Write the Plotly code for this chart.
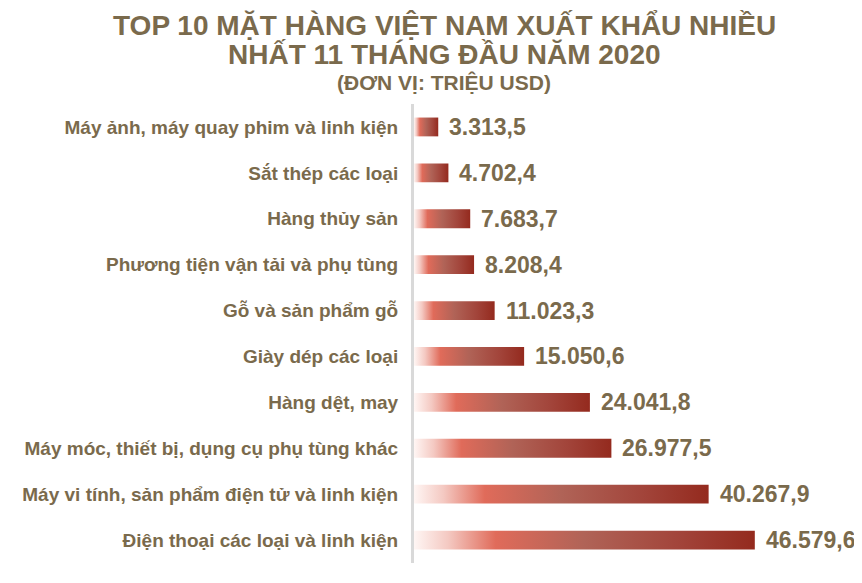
import plotly.graph_objects as go

categories = [
    "Điện thoại các loại và linh kiện",
    "Máy vi tính, sản phẩm điện tử và linh kiện",
    "Máy móc, thiết bị, dụng cụ phụ tùng khác",
    "Hàng dệt, may",
    "Giày dép các loại",
    "Gỗ và sản phẩm gỗ",
    "Phương tiện vận tải và phụ tùng",
    "Hàng thủy sản",
    "Sắt thép các loại",
    "Máy ảnh, máy quay phim và linh kiện",
]
values = [46579.6, 40267.9, 26977.5, 24041.8, 15050.6, 11023.3, 8208.4, 7683.7, 4702.4, 3313.5]
value_labels = ["46.579,6", "40.267,9", "26.977,5", "24.041,8", "15.050,6",
                "11.023,3", "8.208,4", "7.683,7", "4.702,4", "3.313,5"]

title_lines = [
    "TOP 10 MẶT HÀNG VIỆT NAM XUẤT KHẨU NHIỀU",
    "NHẤT 11 THÁNG ĐẦU NĂM 2020",
    "(ĐƠN VỊ: TRIỆU USD)",
]

TXT = "#7A6A4C"
FONT = "Liberation Sans, Arial, sans-serif"
half = 0.205
grad = [[0.0, "#FFF6F4"], [0.10, "#F4C9C2"], [0.24, "#E06B5A"],
        [0.50, "#B06357"], [0.78, "#A2443A"], [1.0, "#942A1E"]]

fig = go.Figure()
for i, v in enumerate(values):
    fig.add_trace(go.Scatter(
        x=[0, v, v, 0, 0],
        y=[i - half, i - half, i + half, i + half, i - half],
        mode="lines", line=dict(width=0), fill="toself",
        fillgradient=dict(type="horizontal", colorscale=grad),
        hoverinfo="skip", showlegend=False,
    ))

for i, (v, lab) in enumerate(zip(values, value_labels)):
    fig.add_annotation(x=v, y=i, text=lab, showarrow=False, xanchor="left",
                       yanchor="middle", xshift=9,
                       font=dict(family=FONT, size=23, color=TXT, weight="bold"))

title_y = [1.172, 1.107, 1.046]
title_sz = [28, 28, 21]
for t, yy, sz in zip(title_lines, title_y, title_sz):
    fig.add_annotation(x=(436 - 406) / 439, y=yy, xref="paper", yref="paper",
                       text=t, showarrow=False, xanchor="center", yanchor="middle",
                       font=dict(family=FONT, size=sz, color=TXT, weight="bold"))

fig.update_layout(
    width=854, height=575,
    margin=dict(l=406, r=9, t=96, b=20),
    paper_bgcolor="white", plot_bgcolor="white",
    xaxis=dict(range=[0, 60000], visible=False, showgrid=False, zeroline=False),
    yaxis=dict(range=[-0.5, 9.5], tickmode="array", tickvals=list(range(len(categories))),
               ticktext=categories, showgrid=False, zeroline=False,
               showline=True, linecolor="#D9D9D9", linewidth=3,
               ticks="", ticklabelstandoff=9,
               tickfont=dict(family=FONT, size=19, color=TXT, weight="bold")),
)

fig.write_html("out.html")
